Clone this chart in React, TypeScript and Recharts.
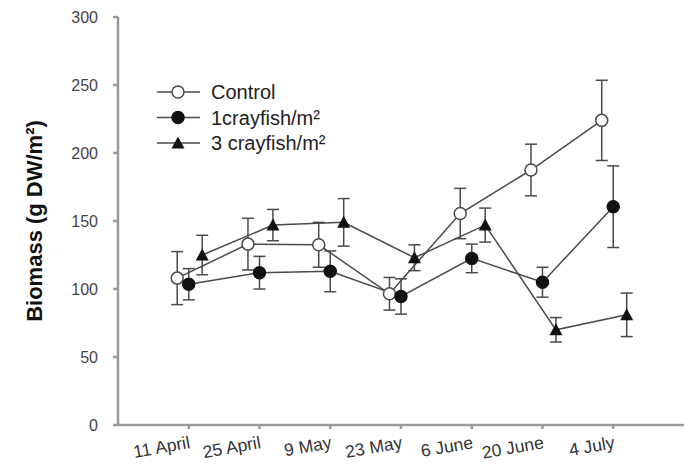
import { LineChart, Line, XAxis, YAxis, ErrorBar, Legend } from 'recharts'

// sampling dates
const DATES = ['11 April', '25 April', '9 May', '23 May', '6 June', '20 June', '4 July']

// biomass means and standard errors, g DW/m²
const CONTROL = [108, 133, 132.5, 96.5, 155.5, 187.5, 224]
const CONTROL_SE = [19.5, 19, 16.5, 12, 18.5, 19, 29.5]
const ONE_CRAYFISH = [103.5, 112, 113, 94.5, 122.5, 105, 160.5]
const ONE_CRAYFISH_SE = [11.5, 12, 15, 13, 10.5, 11, 30]
const THREE_CRAYFISH = [125, 147, 149, 123, 147, 70, 81]
const THREE_CRAYFISH_SE = [14.5, 11.5, 17.5, 9.5, 12.5, 9, 16]

const Y_TICKS = [0, 50, 100, 150, 200, 250, 300]

const LINE = '#4a4a4a'
const AXIS = '#9a9a9a'
const FONT = '"Liberation Sans", Arial, sans-serif'

// small horizontal dodge so the error bars don't overlap
const build = (values: number[], se: number[], dodge: number) =>
  values.map((v, i) => ({ x: i + 1 + dodge, y: v, se: se[i] }))

const controlData = build(CONTROL, CONTROL_SE, -0.163)
const oneData = build(ONE_CRAYFISH, ONE_CRAYFISH_SE, 0)
const threeData = build(THREE_CRAYFISH, THREE_CRAYFISH_SE, 0.19)

type Marker = 'open' | 'filled' | 'triangle'

function drawMarker(kind: Marker, cx: number, cy: number, key?: string) {
  if (kind === 'triangle') {
    return (
      <path
        key={key}
        d={`M${cx},${cy - 6.5} L${cx + 6.5},${cy + 5.5} L${cx - 6.5},${cy + 5.5} Z`}
        fill="#111"
      />
    )
  }
  return (
    <circle
      key={key}
      cx={cx}
      cy={cy}
      r={6}
      fill={kind === 'open' ? '#fff' : '#111'}
      stroke={kind === 'open' ? LINE : '#111'}
      strokeWidth={1.5}
    />
  )
}

const dotOf = (kind: Marker) => (props: any) =>
  drawMarker(kind, props.cx, props.cy, `${kind}-${props.index}`)

const LEGEND_ROWS: { label: string; marker: Marker }[] = [
  { label: 'Control', marker: 'open' },
  { label: '1crayfish/m²', marker: 'filled' },
  { label: '3 crayfish/m²', marker: 'triangle' },
]

function LegendBox() {
  return (
    <svg width={260} height={80}>
      {LEGEND_ROWS.map((row, i) => {
        const y = 12 + i * 25.5
        return (
          <g key={row.label}>
            <line x1={7} x2={50} y1={y} y2={y} stroke={LINE} strokeWidth={1.5} />
            {drawMarker(row.marker, 28, y)}
            <text x={61} y={y + 7} fontSize={20} fontFamily={FONT} fill="#222">
              {row.label}
            </text>
          </g>
        )
      })}
    </svg>
  )
}

function DateTick({ x, y, payload }: any) {
  const label = DATES[payload.value - 1]
  const tx = x + 2
  const ty = y + 19
  return (
    <text
      x={tx}
      y={ty}
      transform={`rotate(-10 ${tx} ${ty})`}
      textAnchor="end"
      fontSize={17.5}
      fontFamily={FONT}
      fill="#333"
    >
      {label}
    </text>
  )
}

export default function App() {
  return (
    <div style={{ position: 'absolute', left: 0, top: 0, background: '#fff' }}>
      <LineChart
        width={685}
        height={467}
        margin={{ top: 17, right: 1, left: 0, bottom: 0 }}
      >
        <XAxis
          type="number"
          dataKey="x"
          domain={[0, 8]}
          ticks={[1, 2, 3, 4, 5, 6, 7]}
          tick={<DateTick />}
          height={42}
          tickSize={4}
          tickMargin={0}
          stroke={AXIS}
          strokeWidth={2.5}
        />
        <YAxis
          type="number"
          domain={[0, 300]}
          ticks={Y_TICKS}
          width={118}
          tickSize={5}
          tickMargin={15}
          stroke={AXIS}
          strokeWidth={2.5}
          tick={{ fill: '#444', fontSize: 16, fontFamily: FONT }}
          label={{
            value: 'Biomass (g DW/m²)',
            angle: -90,
            position: 'insideLeft',
            offset: 34,
            style: { textAnchor: 'middle', fontWeight: 'bold', fontSize: 22, fontFamily: FONT, fill: '#111' },
          }}
        />
        <Legend
          verticalAlign="middle"
          content={() => <LegendBox />}
          wrapperStyle={{ top: 80, left: 150, width: 260 }}
        />
        <Line
          data={controlData}
          dataKey="y"
          name="Control"
          stroke={LINE}
          strokeWidth={1.5}
          dot={dotOf('open')}
          isAnimationActive={false}
        >
          <ErrorBar dataKey="se" width={6} stroke={LINE} strokeWidth={1.5} direction="y" />
        </Line>
        <Line
          data={oneData}
          dataKey="y"
          name="1crayfish/m²"
          stroke={LINE}
          strokeWidth={1.5}
          dot={dotOf('filled')}
          isAnimationActive={false}
        >
          <ErrorBar dataKey="se" width={6} stroke={LINE} strokeWidth={1.5} direction="y" />
        </Line>
        <Line
          data={threeData}
          dataKey="y"
          name="3 crayfish/m²"
          stroke={LINE}
          strokeWidth={1.5}
          dot={dotOf('triangle')}
          isAnimationActive={false}
        >
          <ErrorBar dataKey="se" width={6} stroke={LINE} strokeWidth={1.5} direction="y" />
        </Line>
      </LineChart>
    </div>
  )
}
